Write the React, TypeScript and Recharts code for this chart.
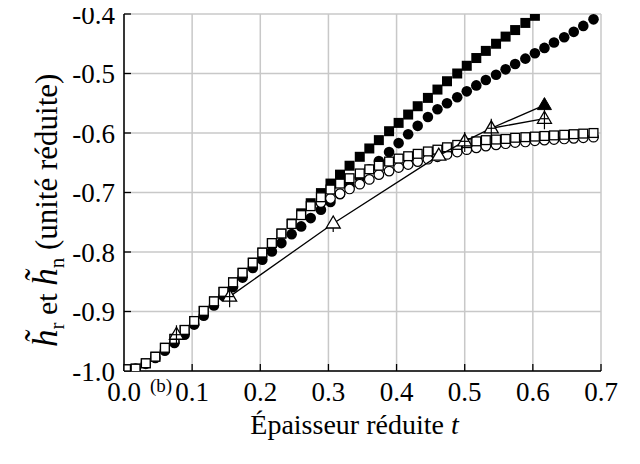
import React from 'react';
import { ScatterChart, Scatter, XAxis, YAxis, CartesianGrid } from 'recharts';

// Reduced thickness grid shared by the simulated series
const T = [
  0.003, 0.017, 0.032, 0.046, 0.060, 0.074, 0.089, 0.103, 0.117, 0.132,
  0.146, 0.160, 0.174, 0.189, 0.203, 0.217, 0.231, 0.246, 0.260, 0.274,
  0.289, 0.303, 0.317, 0.331, 0.346, 0.360, 0.374, 0.389, 0.403, 0.417,
  0.431, 0.446, 0.460, 0.474, 0.489, 0.503, 0.517, 0.531, 0.546, 0.560,
  0.574, 0.589, 0.603, 0.617, 0.631, 0.646, 0.660, 0.674, 0.689,
];

// open squares (all T)
const openSquares = [
  -0.997, -0.996, -0.987, -0.976, -0.961, -0.946, -0.931, -0.916, -0.899, -0.883,
  -0.867, -0.851, -0.835, -0.818, -0.801, -0.785, -0.769, -0.753, -0.738, -0.723,
  -0.708, -0.695, -0.685, -0.676, -0.668, -0.661, -0.655, -0.648, -0.643, -0.639,
  -0.635, -0.631, -0.628, -0.624, -0.620, -0.617, -0.614, -0.612, -0.611, -0.610,
  -0.608, -0.607, -0.606, -0.605, -0.604, -0.603, -0.602, -0.601, -0.600,
];

// filled squares (T[0..42])
const filledSquares = [
  -0.997, -0.996, -0.987, -0.976, -0.961, -0.946, -0.931, -0.916, -0.899, -0.883,
  -0.867, -0.851, -0.835, -0.818, -0.801, -0.785, -0.769, -0.752, -0.735, -0.718,
  -0.701, -0.685, -0.670, -0.655, -0.640, -0.626, -0.612, -0.597, -0.583, -0.569,
  -0.555, -0.541, -0.527, -0.513, -0.500, -0.487, -0.474, -0.462, -0.450, -0.438,
  -0.427, -0.415, -0.403,
];

// filled circles (all T)
const filledCircles = [
  -0.999, -0.996, -0.988, -0.978, -0.966, -0.953, -0.939, -0.922, -0.907, -0.890,
  -0.874, -0.859, -0.843, -0.827, -0.813, -0.799, -0.785, -0.770, -0.757, -0.743,
  -0.729, -0.716, -0.703, -0.689, -0.675, -0.661, -0.647, -0.632, -0.617, -0.602,
  -0.588, -0.573, -0.560, -0.550, -0.540, -0.530, -0.520, -0.511, -0.502, -0.493,
  -0.484, -0.475, -0.466, -0.457, -0.448, -0.439, -0.430, -0.420, -0.409,
];

// open circles (T[20..48])
const OPEN_CIRCLE_START = 20;
const openCircles = [
  -0.717, -0.710, -0.702, -0.694, -0.686, -0.678, -0.670, -0.664, -0.658, -0.653,
  -0.648, -0.644, -0.640, -0.636, -0.632, -0.628, -0.625, -0.622, -0.620, -0.618,
  -0.616, -0.615, -0.613, -0.612, -0.611, -0.610, -0.609, -0.608, -0.607,
];

// triangles (experimental points)
const triT = [0.077, 0.155, 0.307, 0.462, 0.5, 0.539, 0.617];
const triY = [-0.939, -0.875, -0.752, -0.638, -0.614, -0.592, -0.576];
const triKind = ['cross', 'cross', 'tick', 'open', 'cross', 'cross', 'cross'];

// filled triangle branch
const fTriT = [0.539, 0.617];
const fTriY = [-0.592, -0.553];
const fTriKind = ['none', 'filled'];

const xTicks = [0, 0.1, 0.2, 0.3, 0.4, 0.5, 0.6, 0.7];
const yTicks = [-1.0, -0.9, -0.8, -0.7, -0.6, -0.5, -0.4];

const textStyle = { fontFamily: 'Liberation Serif' };

const mk = (xs: number[], ys: number[], off = 0, kinds?: string[]) =>
  ys.map((y, i) => ({ x: xs[i + off], y, kind: kinds ? kinds[i] : '' }));

const dFilledSq = mk(T, filledSquares);
const dFilledCi = mk(T, filledCircles);
const dOpenCi = mk(T, openCircles, OPEN_CIRCLE_START);
const dOpenSq = mk(T, openSquares);
const triAll = mk(triT, triY, 0, triKind);
const dTriFirst = triAll.slice(0, 1);
const dTriLine = triAll.slice(1);
const dFTri = mk(fTriT, fTriY, 0, fTriKind);

const S = 5;
const FilledSquare = (p: any) =>
  p.cx == null ? <g /> : <rect x={p.cx - S} y={p.cy - S} width={2 * S} height={2 * S} fill="#000" />;
const OpenSquare = (p: any) =>
  p.cx == null ? <g /> : (
    <rect x={p.cx - S + 0.6} y={p.cy - S + 0.6} width={2 * S - 1.2} height={2 * S - 1.2} fill="#fff" stroke="#000" strokeWidth={1.3} />
  );
const FilledCircle = (p: any) =>
  p.cx == null ? <g /> : <circle cx={p.cx} cy={p.cy} r={5.3} fill="#000" />;
const OpenCircle = (p: any) =>
  p.cx == null ? <g /> : <circle cx={p.cx} cy={p.cy} r={4.8} fill="#fff" stroke="#000" strokeWidth={1.2} />;

const Triangle = (p: any) => {
  if (p.cx == null) return <g />;
  const kind = p.payload?.kind;
  if (kind === 'none') return <g />;
  const { cx, cy } = p;
  const h = 12;
  const w = 14;
  const pts = `${cx},${cy - h * 0.62} ${cx - w / 2},${cy + h * 0.38} ${cx + w / 2},${cy + h * 0.38}`;
  if (kind === 'filled') {
    return <polygon points={pts} fill="#000" stroke="#000" strokeWidth={1} />;
  }
  return (
    <g>
      <polygon points={pts} fill="#fff" stroke="#000" strokeWidth={1.3} />
      {kind === 'cross' && (
        <g stroke="#000" strokeWidth={1.2}>
          <line x1={cx} x2={cx} y1={cy - h * 0.62 - 2} y2={cy + h * 0.38 + 6} />
          <line x1={cx - 4} x2={cx + 4} y1={cy} y2={cy} />
        </g>
      )}
      {kind === 'tick' && (
        <g stroke="#000" strokeWidth={1.2}>
          <line x1={cx} x2={cx} y1={cy + h * 0.38} y2={cy + h * 0.38 + 4} />
        </g>
      )}
    </g>
  );
};

const TICK = 7;
const BM = 11; // bottom tick margin
const LM = 9; // left tick margin
const TICK_FONT = 27;

const BottomTick = (p: any) => {
  const axisY = p.y - BM;
  return (
    <g>
      <line x1={p.x} x2={p.x} y1={axisY} y2={axisY - TICK} stroke="#000" strokeWidth={1.3} />
      <text x={p.x} y={p.y} dy="0.71em" textAnchor="middle" style={textStyle} fontSize={TICK_FONT} fill="#000">
        {Number(p.payload.value).toFixed(1)}
      </text>
    </g>
  );
};

const LeftTick = (p: any) => {
  const axisX = p.x + LM;
  return (
    <g>
      <line x1={axisX} x2={axisX + TICK} y1={p.y} y2={p.y} stroke="#000" strokeWidth={1.3} />
      <text x={p.x} y={p.y} dy="0.36em" textAnchor="end" style={textStyle} fontSize={TICK_FONT} fill="#000">
        {Number(p.payload.value).toFixed(1)}
      </text>
    </g>
  );
};

const TopTick = (p: any) => (
  <line x1={p.x} x2={p.x} y1={p.y} y2={p.y + TICK - 2} stroke="#000" strokeWidth={1.3} />
);
const RightTick = (p: any) => (
  <line x1={p.x} x2={p.x - TICK} y1={p.y} y2={p.y} stroke="#000" strokeWidth={1.3} />
);

const XTitle = (props: any) => {
  const vb = props.viewBox || {};
  const cx = vb.x + vb.width / 2 - 8;
  const by = vb.y + 63;
  return (
    <g>
      <text x={cx} y={by} textAnchor="middle" style={textStyle} fontSize={28} fill="#000">
        Épaisseur réduite <tspan fontStyle="italic">t</tspan>
      </text>
      <text x={vb.x + 37} y={vb.y + 21} textAnchor="middle" style={textStyle} fontSize={19} fill="#000">
        (b)
      </text>
    </g>
  );
};

const YTitle = (props: any) => {
  const vb = props.viewBox || {};
  const bx = vb.x + vb.width - 67;
  const by = vb.y + vb.height - 24;
  return (
    <text
      transform={`translate(${bx},${by}) rotate(-90)`}
      textAnchor="start"
      style={textStyle}
      fill="#000"
      fontSize={31}
    >
      <tspan fontStyle="italic" fontSize={35}>h̃</tspan>
      <tspan fontSize={21} dy={7}>r</tspan>
      <tspan dy={-7} fontSize={30}> et </tspan>
      <tspan fontStyle="italic" fontSize={35}>h̃</tspan>
      <tspan fontSize={21} dy={7}>n</tspan>
      <tspan dy={-7}> (unité réduite)</tspan>
    </text>
  );
};

export default function App() {
  return (
    <div style={{ marginTop: -8, marginLeft: -8, width: 640, height: 464 }}>
      <ScatterChart width={640} height={464} margin={{ top: 14, right: 39, bottom: 0, left: 0 }}>
        <CartesianGrid stroke="#c8c8c8" strokeWidth={1.5} />
        <XAxis
          type="number"
          dataKey="x"
          domain={[0, 0.7]}
          ticks={xTicks}
          allowDataOverflow
          height={93}
          tickSize={0}
          tickMargin={BM}
          tickLine={false}
          axisLine={{ stroke: '#000', strokeWidth: 1.5 }}
          tick={<BottomTick />}
          interval={0}
          label={XTitle}
        />
        <XAxis
          xAxisId="top"
          orientation="top"
          type="number"
          domain={[0, 0.7]}
          ticks={xTicks}
          allowDataOverflow
          height={0}
          tickSize={0}
          tickMargin={0}
          tickLine={false}
          axisLine={{ stroke: '#000', strokeWidth: 1.5 }}
          tick={<TopTick />}
          interval={0}
        />
        <YAxis
          type="number"
          dataKey="y"
          domain={[-1, -0.4]}
          ticks={yTicks}
          allowDataOverflow
          width={124}
          tickSize={0}
          tickMargin={LM}
          tickLine={false}
          axisLine={{ stroke: '#000', strokeWidth: 1.5 }}
          tick={<LeftTick />}
          interval={0}
          label={YTitle}
        />
        <YAxis
          yAxisId="right"
          orientation="right"
          type="number"
          domain={[-1, -0.4]}
          ticks={yTicks}
          allowDataOverflow
          width={0}
          tickSize={0}
          tickMargin={0}
          tickLine={false}
          axisLine={{ stroke: '#000', strokeWidth: 1.5 }}
          tick={<RightTick />}
          interval={0}
        />
        <Scatter data={dFilledSq} shape={FilledSquare} isAnimationActive={false} />
        <Scatter data={dFilledCi} shape={FilledCircle} isAnimationActive={false} />
        <Scatter data={dOpenCi} shape={OpenCircle} isAnimationActive={false} />
        <Scatter data={dOpenSq} shape={OpenSquare} isAnimationActive={false} />
        <Scatter data={dFTri} shape={Triangle} line={{ stroke: '#000', strokeWidth: 1.3 }} isAnimationActive={false} />
        <Scatter data={dTriLine} shape={Triangle} line={{ stroke: '#000', strokeWidth: 1.3 }} isAnimationActive={false} />
        <Scatter data={dTriFirst} shape={Triangle} isAnimationActive={false} />
      </ScatterChart>
    </div>
  );
}
